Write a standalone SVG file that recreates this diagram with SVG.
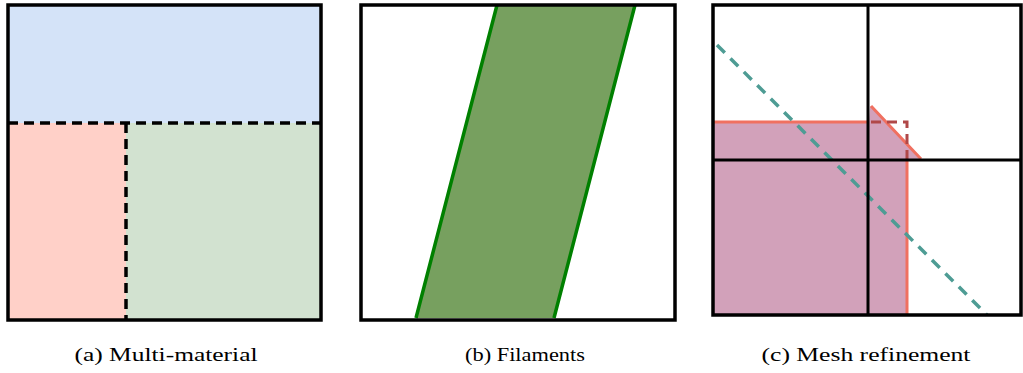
<svg xmlns="http://www.w3.org/2000/svg" width="1023" height="373" viewBox="0 0 1023 373">
<style>
.frame{fill:none;stroke:#000;stroke-width:3.5}
.grid{fill:none;stroke:#000;stroke-width:3}
.cap{font-family:"Liberation Serif",serif;font-size:19px;fill:#000;text-anchor:middle}
</style>
<rect width="1023" height="373" fill="#fff"/>
<g id="panel-a">
<rect x="8" y="5" width="313" height="118" fill="#d4e3f8"/>
<rect x="8" y="123" width="118" height="197" fill="#ffd0c8"/>
<rect x="126" y="123" width="195" height="197" fill="#d2e2d0"/>
<path d="M8 123H321M126 123V320" fill="none" stroke="#000" stroke-width="3.5" stroke-dasharray="10 6"/>
<rect class="frame" x="8" y="5" width="313" height="315"/>
<text class="cap" x="166" y="361" textLength="183" lengthAdjust="spacingAndGlyphs">(a) Multi-material</text>
</g>
<g id="panel-b">
<rect x="361" y="5" width="314" height="315" fill="#fff"/>
<polygon points="497,5 635,5 554,318 416,318" fill="#77a05f"/>
<path d="M497 5L416 318M635 5L554 318" fill="none" stroke="#008000" stroke-width="3.5"/>
<rect class="frame" x="361" y="5" width="314" height="315"/>
<text class="cap" x="525" y="361" textLength="120" lengthAdjust="spacingAndGlyphs">(b) Filaments</text>
</g>
<g id="panel-c">
<polygon points="713,122 869,122 870,106 921,160 907,160 907,315 713,315" fill="#d2a1ba"/>
<path d="M713 122H868M871 106L921 159M907 160V315" fill="none" stroke="#f07060" stroke-width="3"/>
<path d="M871 122H907V160" fill="none" stroke="#b04848" stroke-width="3" stroke-dasharray="10 6"/>
<path d="M717 45L987 315" fill="none" stroke="#4e9c94" stroke-width="3.5" stroke-dasharray="11 8"/>
<path class="grid" d="M868 5V315M713 160H1021"/>
<rect class="frame" x="713" y="5" width="308" height="310"/>
<text class="cap" x="866" y="361" textLength="209" lengthAdjust="spacingAndGlyphs">(c) Mesh refinement</text>
</g>
</svg>
